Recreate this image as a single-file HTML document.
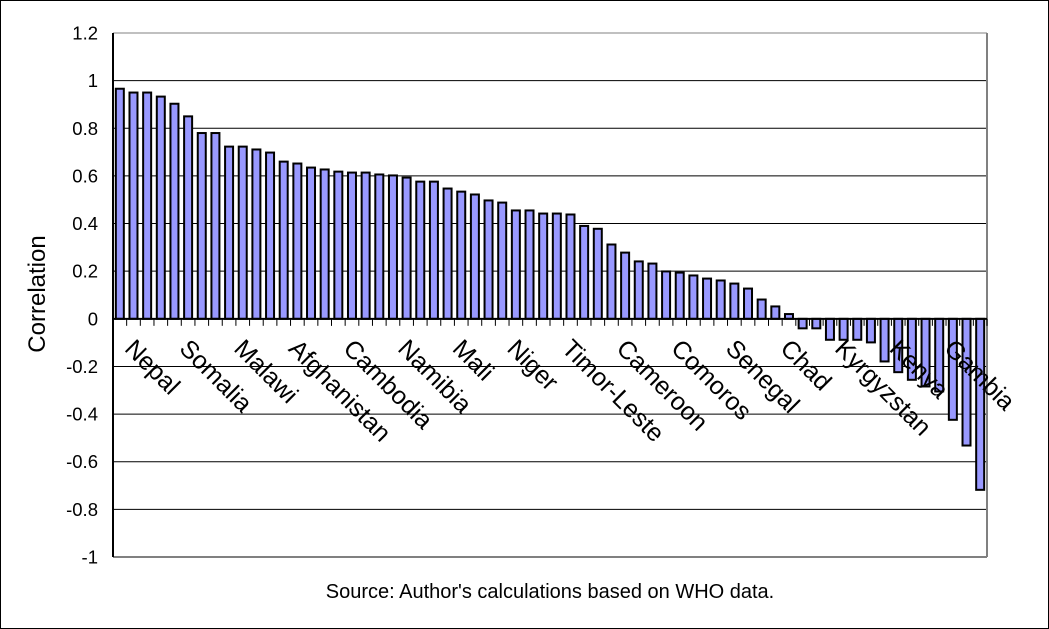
<!DOCTYPE html>
<html><head><meta charset="utf-8"><style>
html,body{margin:0;padding:0;background:#fff;}
svg{display:block;font-family:"Liberation Sans",Arial,sans-serif;}
</style></head><body>
<svg id="chart" width="1049" height="629" viewBox="0 0 1049 629" xmlns="http://www.w3.org/2000/svg">
<rect x="0.5" y="0.5" width="1048" height="628" fill="#fff" stroke="#000"/>
<g id="grid"></g><g id="bars"></g><g id="axes"></g><g id="labels"></g>
<text x="45" y="294" font-size="24" text-anchor="middle" transform="rotate(-90 45 294)">Correlation</text>
<text x="550" y="598" font-size="20" text-anchor="middle">Source: Author's calculations based on WHO data.</text>
</svg>
<script>
const values = [0.966,0.95,0.95,0.933,0.903,0.85,0.78,0.78,0.723,0.723,0.711,0.698,0.66,0.652,0.635,0.627,0.618,0.614,0.614,0.606,0.602,0.593,0.576,0.576,0.547,0.534,0.522,0.497,0.488,0.455,0.455,0.442,0.442,0.438,0.39,0.378,0.312,0.278,0.241,0.232,0.199,0.194,0.182,0.169,0.161,0.148,0.127,0.081,0.052,0.02,-0.04,-0.04,-0.088,-0.088,-0.088,-0.099,-0.179,-0.224,-0.256,-0.284,-0.305,-0.424,-0.532,-0.718];
const labelIndex = [1,5,9,13,17,21,25,29,33,37,41,45,49,53,57,61];
const labelNames = ["Nepal","Somalia","Malawi","Afghanistan","Cambodia","Namibia","Mali","Niger","Timor-Leste","Cameroon","Comoros","Senegal","Chad","Kyrgyzstan","Kenya","Gambia"];
const yTicks = [1.2,1,0.8,0.6,0.4,0.2,0,-0.2,-0.4,-0.6,-0.8,-1];
const NS="http://www.w3.org/2000/svg";
const L=113,R=987,T=33,B=557,yMin=-1,yMax=1.2;
const y=v=>T+(yMax-v)/(yMax-yMin)*(B-T);
const step=(R-L)/values.length;
const xc=i=>L+step*(i+0.5);
function mk(tag,attrs,parent){const e=document.createElementNS(NS,tag);for(const k in attrs)e.setAttribute(k,attrs[k]);document.getElementById(parent).appendChild(e);return e;}
yTicks.forEach(t=>{
  const g=mk('line',{x1:L,x2:R,y1:y(t),y2:y(t),stroke:t===1.2?'#808080':'#000','stroke-width':1},'grid');
  
  
  const tx=mk('text',{x:98,y:y(t)+6.5,'font-size':18.5,'text-anchor':'end'},'axes');
  tx.textContent=String(t);
  
  
});
values.forEach((v,i)=>{
  const y0=y(0),y1=y(v);
  const r=mk('rect',{x:xc(i)-4,y:Math.min(y0,y1),width:8,height:Math.max(1,Math.abs(y1-y0)),fill:'#9999ff',stroke:'#000','stroke-width':2},'bars');
  
  
});
mk('line',{x1:R,x2:R,y1:T,y2:B,stroke:'#808080','stroke-width':2},'axes');
const ya=mk('line',{x1:L,x2:L,y1:T,y2:B,stroke:'#000','stroke-width':2},'axes');


const xa=mk('line',{x1:L,x2:R,y1:y(0),y2:y(0),stroke:'#000','stroke-width':2},'axes');


for(let i=0;i<=values.length;i++){
  mk('line',{x1:L+step*i,x2:L+step*i,y1:y(0),y2:y(0)+7,stroke:'#000','stroke-width':1},'axes');
}
labelNames.forEach((n,k)=>{
  const x=xc(labelIndex[k])-10, yy=y(0)+31;
  const t=mk('text',{x:x,y:yy,'font-size':25,transform:`rotate(45 ${x} ${yy})`},'labels');
  t.textContent=n;
  
  
});
</script>
</body></html>
